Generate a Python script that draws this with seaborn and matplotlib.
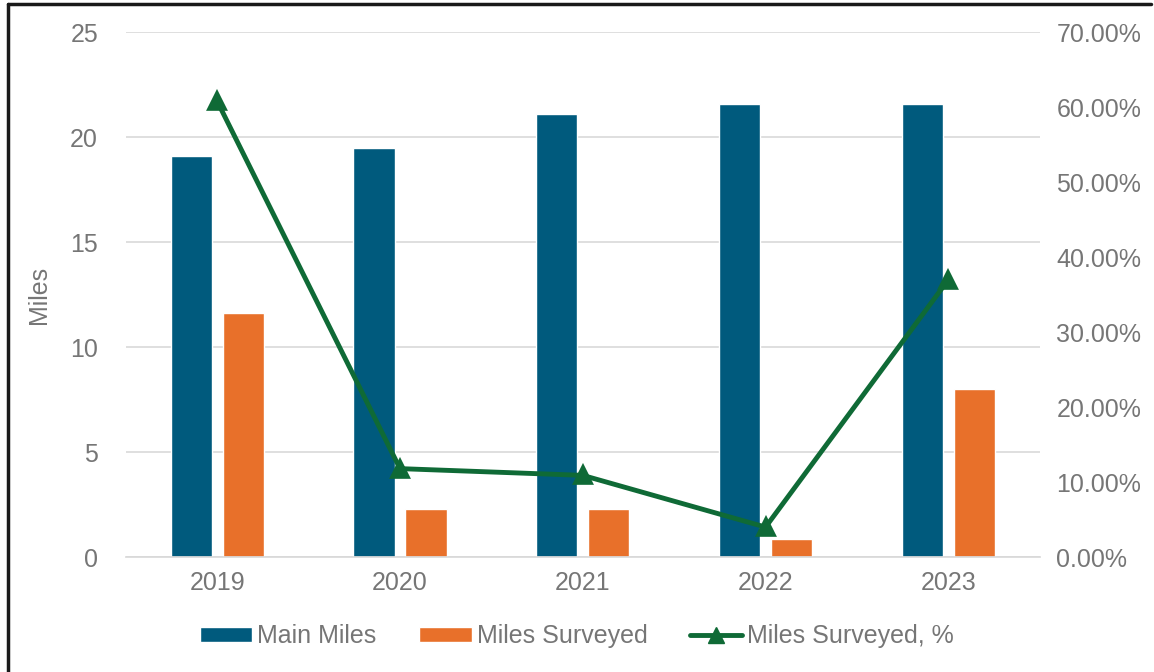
import numpy as np
import pandas as pd
import seaborn as sns
import matplotlib.pyplot as plt
from matplotlib.lines import Line2D
from matplotlib.patches import Patch
from matplotlib.ticker import FuncFormatter

years = ['2019', '2020', '2021', '2022', '2023']
main_miles = [19.1, 19.48, 21.1, 21.6, 21.6]
miles_surveyed = [11.62, 2.29, 2.29, 0.86, 8.0]
pct_surveyed = [60.8, 11.8, 10.9, 4.0, 37.0]

blue = '#005A7D'
orange = '#E8702A'
green = '#0F6A36'
txt = '#767676'

def main():
    sns.set_theme(style='white')
    plt.rcParams['font.family'] = ['Liberation Sans', 'DejaVu Sans']

    df = pd.DataFrame({
        'year': years * 2,
        'miles': main_miles + miles_surveyed,
        'series': ['Main Miles'] * 5 + ['Miles Surveyed'] * 5,
    })

    fig = plt.figure(figsize=(11.54, 6.72), dpi=100)
    ax = fig.add_axes([0.109, 0.171, 0.792, 0.781])
    sns.barplot(data=df, x='year', y='miles', hue='series',
                palette=[blue, orange], width=0.57, gap=0.21,
                saturation=1, ax=ax, legend=False)
    ax.set_ylim(0, 25)
    ax.set_yticks(range(0, 26, 5))
    ax.yaxis.grid(True, color='#D9D9D9', linewidth=1.2)
    ax.set_axisbelow(True)
    ax.set_xlabel('')
    ax.set_ylabel('Miles', color=txt, fontsize=18, labelpad=14)
    for s in ['top', 'right', 'left']:
        ax.spines[s].set_visible(False)
    ax.spines['bottom'].set_color('#D9D9D9')
    ax.tick_params(axis='both', colors=txt, labelsize=18, length=0)
    ax.tick_params(axis='y', pad=20)
    ax.tick_params(axis='x', pad=10)

    ax2 = ax.twinx()
    sns.pointplot(x=years, y=pct_surveyed, ax=ax2, color=green,
                  markers='^', linestyles='-', markersize=11, linewidth=3.5)
    ax2.set_ylim(0, 70)
    ax2.set_yticks(range(0, 71, 10))
    ax2.yaxis.set_major_formatter(FuncFormatter(lambda v, p: f'{v:.2f}%'))
    ax2.tick_params(axis='y', colors=txt, labelsize=18, length=0, pad=12)
    for s in ax2.spines.values():
        s.set_visible(False)
    ax.set_xlim(-0.5, 4.5)
    ax2.set_xlim(-0.5, 4.5)

    handles = [
        Patch(facecolor=blue, label='Main Miles'),
        Patch(facecolor=orange, label='Miles Surveyed'),
        Line2D([], [], color=green, lw=3.5, marker='^', markersize=11,
               label='Miles Surveyed, %'),
    ]
    fig.legend(handles=handles, loc='center', bbox_to_anchor=(0.5, 0.053),
               ncol=3, frameon=False, fontsize=18, labelcolor=txt,
               handlelength=2.1, handleheight=0.55, handletextpad=0.2,
               columnspacing=1.7)

    # figure border
    fig.add_artist(Line2D([0.0065, 0.0065], [0, 0.994], color='#1a1a1a', lw=2.5))
    fig.add_artist(Line2D([0.0065, 0.997], [0.994, 0.994], color='#1a1a1a', lw=2.5))

    fig.savefig('out.png', dpi=100)
    plt.close()

if __name__ == "__main__":
    main()
